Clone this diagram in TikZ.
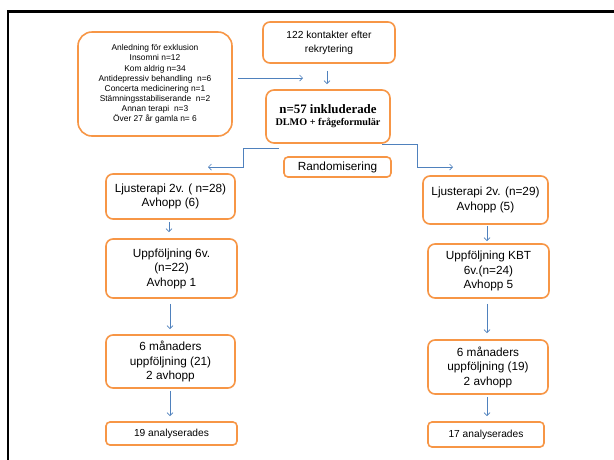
\documentclass[tikz,border=0pt]{standalone}
\usepackage{fontspec}
\setmainfont{Liberation Sans}
\newfontfamily\serifb{Liberation Serif}
\usetikzlibrary{arrows.meta}
\definecolor{boxor}{RGB}{247,150,70}
\definecolor{arrbl}{RGB}{79,129,189}
\tikzset{
  box/.style={draw=boxor, line width=1.6pt, rounded corners=7pt, align=center, inner sep=0pt, fill=white},
  arr/.style={draw=arrbl, line width=0.7pt, -{Straight Barb[length=3pt,width=6pt]}},
  txtL/.style={font=\fontsize{11.8}{14.5}\selectfont},
  txtM/.style={font=\fontsize{10.2}{14}\selectfont},
}
\begin{document}
\begin{tikzpicture}[x=1pt,y=-1pt]
\useasboundingbox (0,0) rectangle (614,459);
\fill[white] (0,0) rectangle (614,459);
% frame
\draw[line width=2.4pt] (8,470) -- (8,11.3) -- (625,11.3);

% top
\node[box, rounded corners=14pt, minimum width=154pt, minimum height=104pt,
      font=\fontsize{8.4}{10.1}\selectfont] (excl) at (155,84)
 {Anledning för exklusion\\Insomni n=12\\Kom aldrig n=34\\Antidepressiv behandling~~n=6\\Concerta medicinering n=1\\Stämningsstabiliserande~~n=2\\Annan terapi~~n=3\\Över 27 år gamla n= 6};
\node[box, txtM, minimum width=132pt, minimum height=41pt] (b122) at (329,42.5)
 {122 kontakter efter\\rekrytering};
\node[box, rounded corners=8pt, minimum width=124pt, minimum height=53pt,
      font=\serifb\bfseries\fontsize{10.2}{12}\selectfont] (n57) at (328,116.5)
 {{\fontsize{12.9}{13}\selectfont n=57 inkluderade}\\DLMO + frågeformulär};
\node[box, txtL, rounded corners=4pt, minimum width=107pt, minimum height=20pt] (rand) at (337.5,167)
 {Randomisering};

% left column
\node[box, txtL, minimum width=129pt, minimum height=45pt] (l1) at (170.5,196.5)
 {Ljusterapi 2v. ( n=28)\\Avhopp (6)};
\node[box, txtL, minimum width=131pt, minimum height=59pt] (l2) at (171.5,268.5)
 {Uppföljning 6v.\\(n=22)\\Avhopp 1};
\node[box, txtL, minimum width=129pt, minimum height=53pt] (l3) at (170.5,361.5)
 {6 månaders\\uppföljning (21)\\2 avhopp};
\node[box, txtM, rounded corners=4pt, minimum width=131pt, minimum height=23pt] (l4) at (171.5,433.5)
 {19 analyserades};

% right column
\node[box, txtL, minimum width=125pt, minimum height=48pt] (r1) at (485.5,200)
 {Ljusterapi 2v. (n=29)\\Avhopp (5)};
\node[box, txtL, minimum width=121pt, minimum height=54pt] (r2) at (488.5,271)
 {Uppföljning KBT\\6v.(n=24)\\Avhopp 5};
\node[box, txtL, minimum width=120pt, minimum height=54pt] (r3) at (488,367)
 {6 månaders\\uppföljning (19)\\2 avhopp};
\node[box, txtM, rounded corners=4pt, minimum width=116pt, minimum height=25pt] (r4) at (486,434.5)
 {17 analyserades};

% connectors
\coordinate (exclend) at (303,78);
\draw[arr] ([xshift=5pt,yshift=6pt]excl.east) -- (exclend);
\draw[arr] ([xshift=-2pt,yshift=-7pt]b122.south) -- ([xshift=-1pt,yshift=5pt]n57.north);

\coordinate (lstart) at (279,148);
\coordinate (lend) at (208,167);
\draw[arr] (lstart) -- (243,148) -- (243,167) -- (lend);
\coordinate (rstart) at (382,144);
\coordinate (rend) at (453,167);
\draw[arr] (rstart) -- (417,144) -- (417,167) -- (rend);

\draw[arr] ([xshift=-1.5pt,yshift=-2pt]l1.south) -- ([xshift=-2.5pt,yshift=6pt]l2.north);
\draw[arr] ([xshift=-1.5pt,yshift=-5pt]l2.south) -- ([xshift=-0.5pt,yshift=5pt]l3.north);
\draw[arr] ([xshift=-0.5pt,yshift=-2pt]l3.south) -- ([xshift=-1.5pt,yshift=5pt]l4.north);

\draw[arr] ([xshift=1.5pt,yshift=-1pt]r1.south) -- ([xshift=-1.5pt,yshift=2pt]r2.north);
\draw[arr] ([xshift=-1.5pt,yshift=-5pt]r2.south) -- ([xshift=-1pt,yshift=6pt]r3.north);
\draw[arr] ([xshift=-1pt,yshift=-2pt]r3.south) -- ([xshift=1pt,yshift=5pt]r4.north);
\end{tikzpicture}
\end{document}
